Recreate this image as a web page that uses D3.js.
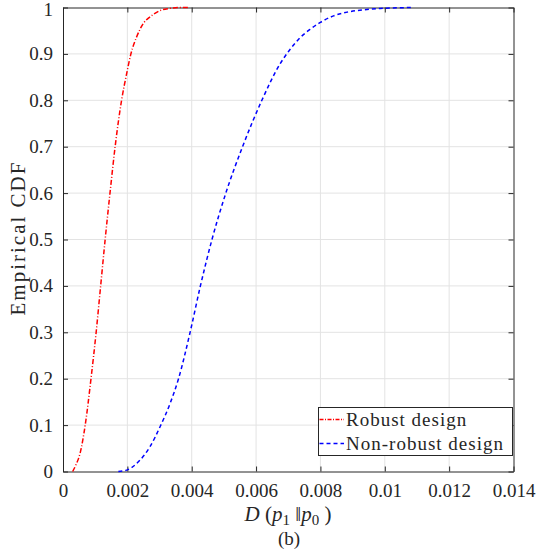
<!DOCTYPE html>
<html><head><meta charset="utf-8">
<script src="https://cdn.jsdelivr.net/npm/d3@7"></script>
<style>body{margin:0;background:#fff}svg{display:block}text{font-family:"Liberation Serif","Times New Roman",serif;fill:#262626}</style>
</head><body><svg id="c" width="537" height="552"></svg>
<script>
const robustD = [0.00030,0.00040,0.00053,0.00069,0.00087,0.00103,0.00117,0.00131,0.00146,0.00162,0.00182,0.00198,0.00211,0.00229,0.00250,0.00271,0.00300,0.00330,0.00360,0.00389];
const robustF = [0,0.014,0.039,0.10,0.20,0.30,0.40,0.50,0.60,0.70,0.80,0.858,0.90,0.937,0.966,0.98,0.993,0.998,1,1];
const nonRobustD = [0.00172,0.00198,0.0024,0.0027,0.00302,0.00333,0.00359,0.00395,0.00427,0.00463,0.00506,0.00558,0.00618,0.00675,0.00706,0.00737,0.00768,0.0080,0.00841,0.00883,0.00934,0.00986,0.0109];
const nonRobustF = [0,0.003,0.025,0.053,0.097,0.147,0.20,0.30,0.40,0.50,0.60,0.70,0.80,0.879,0.91,0.935,0.953,0.968,0.982,0.99,0.995,0.998,1.0];
const xTicks = [0,0.002,0.004,0.006,0.008,0.01,0.012,0.014];
const xTickLabels = ["0","0.002","0.004","0.006","0.008","0.01","0.012","0.014"];
const yTicks = [0,0.1,0.2,0.3,0.4,0.5,0.6,0.7,0.8,0.9,1];
const yTickLabels = ["0","0.1","0.2","0.3","0.4","0.5","0.6","0.7","0.8","0.9","1"];
const seriesNames = ["Robust design","Non-robust design"];

const svg = d3.select("#c");
const L=63, R=513.5, T=7.5, B=471.5;
const x = d3.scaleLinear().domain([0,0.014]).range([L,R]);
const y = d3.scaleLinear().domain([0,1]).range([B,T]);
const axisCol="#262626";

// grid
const g = svg.append("g");
g.selectAll(".gx").data(xTicks.slice(1,-1)).join("line")
 .attr("x1",d=>x(d)).attr("x2",d=>x(d)).attr("y1",T).attr("y2",B)
 .attr("stroke","#e3e3e3").attr("stroke-width",1);
g.selectAll(".gy").data(yTicks.slice(1,-1)).join("line")
 .attr("y1",d=>y(d)).attr("y2",d=>y(d)).attr("x1",L).attr("x2",R)
 .attr("stroke","#e3e3e3").attr("stroke-width",1);

// axes with inward ticks
const fmtX = d=>xTickLabels[xTicks.indexOf(d)];
const fmtY = d=>yTickLabels[yTicks.indexOf(d)];
const ax = svg.append("g").attr("transform",`translate(0,${B})`)
 .call(d3.axisBottom(x).tickValues(xTicks).tickFormat(fmtX).tickSizeInner(-5).tickSizeOuter(0).tickPadding(12));
const ay = svg.append("g").attr("transform",`translate(${L},0)`)
 .call(d3.axisLeft(y).tickValues(yTicks).tickFormat(fmtY).tickSizeInner(-5).tickSizeOuter(0).tickPadding(10));
const at = svg.append("g").attr("transform",`translate(0,${T})`)
 .call(d3.axisTop(x).tickValues(xTicks).tickFormat("").tickSizeInner(-5).tickSizeOuter(0));
const ar = svg.append("g").attr("transform",`translate(${R},0)`)
 .call(d3.axisRight(y).tickValues(yTicks).tickFormat("").tickSizeInner(-5).tickSizeOuter(0));
[ax,ay,at,ar].forEach(a=>{
  a.select(".domain").attr("stroke",axisCol);
  a.selectAll(".tick line").attr("stroke",axisCol);
  a.selectAll(".tick text").attr("fill",axisCol).style("font-family","'Liberation Serif',serif").style("font-size","19px");
});
ax.selectAll(".tick text").attr("dy","0.71em");
ay.selectAll(".tick text").filter(d=>d===1).attr("dy","0.42em");

// curves
const line = d3.line().x(d=>x(d[0])).y(d=>y(d[1])).curve(d3.curveMonotoneX);
svg.append("path").datum(robustD.map((d,i)=>[d,robustF[i]]))
 .attr("d",line).attr("fill","none").attr("stroke","#ff0000").attr("stroke-width",1.5).attr("stroke-dasharray","5,2,1,2");
svg.append("path").datum(nonRobustD.map((d,i)=>[d,nonRobustF[i]]))
 .attr("d",line).attr("fill","none").attr("stroke","#0000ff").attr("stroke-width",1.5).attr("stroke-dasharray","4,3");

// legend
const lg = svg.append("g");
lg.append("rect").attr("x",318.5).attr("y",407.5).attr("width",194).attr("height",48)
 .attr("fill","#fff").attr("stroke",axisCol).attr("stroke-width",1);
const lcols=["#ff0000","#0000ff"], ldash=["4,1.5,1,1.5","4,3"];
seriesNames.forEach((n,i)=>{
  const yy = 419.5 + i*24;
  lg.append("line").attr("x1",319.5).attr("x2",344).attr("y1",yy).attr("y2",yy)
    .attr("stroke",lcols[i]).attr("stroke-width",1.5).attr("stroke-dasharray",ldash[i]);
  lg.append("text").attr("x",346).attr("y",yy).attr("dy","0.33em")
    .style("font-size","19px").style("letter-spacing","1px").text(n);
});

// labels
svg.append("text").attr("transform","translate(25,238) rotate(-90)").attr("text-anchor","middle")
 .style("font-size","21px").style("letter-spacing","2px").text("Empirical CDF");
const xl = svg.append("text").attr("x",288).attr("y",521).attr("text-anchor","middle").style("font-size","21px");
xl.append("tspan").style("font-style","italic").text("D");
xl.append("tspan").text(" (");
xl.append("tspan").style("font-style","italic").text("p");
xl.append("tspan").attr("dy",4).style("font-size","15px").text("1");
xl.append("tspan").attr("dy",-4).text(" \u2016");
xl.append("tspan").style("font-style","italic").text("p");
xl.append("tspan").attr("dy",4).style("font-size","15px").text("0");
xl.append("tspan").attr("dy",-4).text(" )");
svg.append("text").attr("x",289).attr("y",545).attr("text-anchor","middle").style("font-size","19px").text("(b)");
</script></body></html>
